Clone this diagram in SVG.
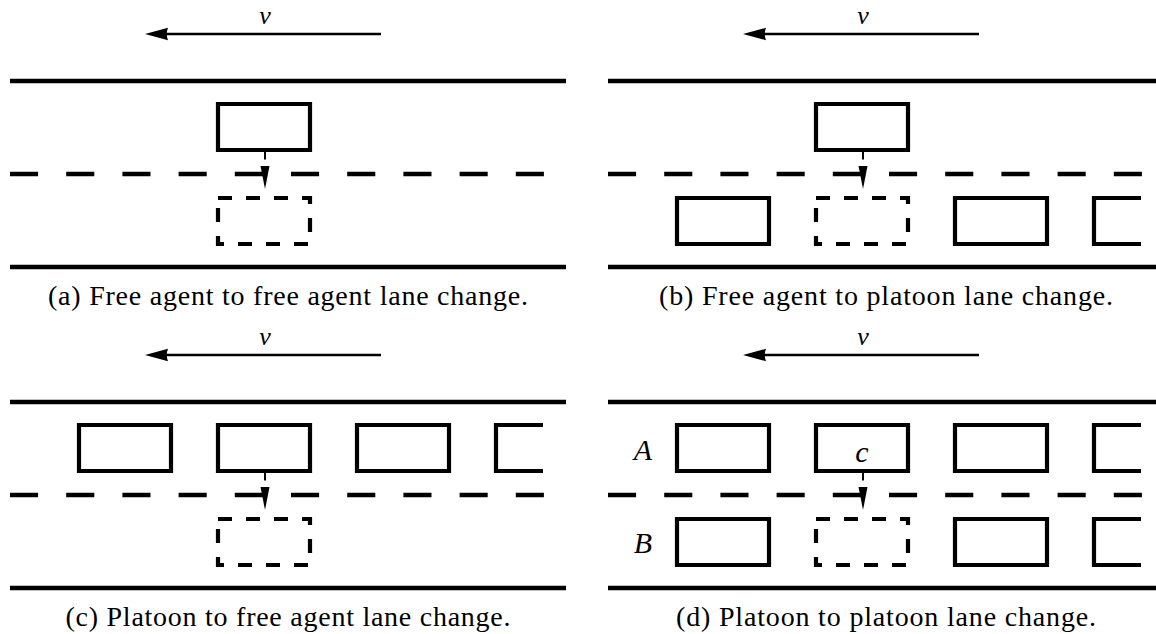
<svg xmlns="http://www.w3.org/2000/svg" width="1156" height="634" viewBox="0 0 1156 634">
<defs>
<style>
.road{stroke:#000;stroke-width:4.5;fill:none}
.lane{stroke:#000;stroke-width:4.5;fill:none;stroke-dasharray:28.1 28.1}
.car{stroke:#000;stroke-width:4.2;fill:none}
.ghost{stroke:#000;stroke-width:4.2;fill:none;stroke-dasharray:14 14}
.vel{stroke:#000;stroke-width:2.5;fill:none}
.stem{stroke:#000;stroke-width:2;fill:none}
.head{fill:#000;stroke:none}
.math{font-family:"Liberation Serif","DejaVu Serif",serif;font-style:italic;font-size:30px;fill:#000}
.vlab{font-size:26px}
.cap{font-family:"Liberation Serif","DejaVu Serif",serif;font-size:28px;fill:#000}
</style>
<path id="carbox" class="car" d="M0,0 H92 V46 H0 Z"/>
<path id="carcut" class="car" d="M47,0 H0 V46 H47"/>
<path id="ghostbox" class="ghost" d="M0,0 H92 V46 H0 Z"/>
<g id="velarrow">
<line class="vel" x1="381" y1="34" x2="165" y2="34"/>
<path class="head" d="M145,34 L168,27.8 Q165.5,34 168,40.2 Z"/>
</g>
<g id="lanechange">
<line class="stem" x1="265" y1="152" x2="265" y2="159.5"/>
<path class="head" d="M260.5,166 L269.5,166 L265,189 Z"/>
</g>
<g id="roadset">
<line class="road" x1="10" y1="81" x2="566" y2="81"/>
<line class="lane" x1="10" y1="174" x2="566" y2="174"/>
<line class="road" x1="10" y1="267" x2="566" y2="267"/>
</g>
</defs>

<!-- Panel (a) -->
<g id="panel-a">
<g id="roads-a"><use href="#roadset"/></g>
<text class="math vlab" x="265" y="24" text-anchor="middle">v</text>
<g id="a-car"><use href="#carbox" x="218" y="104"/></g>
<g id="a-target"><use href="#ghostbox" x="218" y="198"/></g>
<g id="connectors-a"><use href="#velarrow"/><use href="#lanechange"/></g>
<text class="cap" x="288" y="305" text-anchor="middle" textLength="480" lengthAdjust="spacing">(a) Free agent to free agent lane change.</text>
</g>

<!-- Panel (b) -->
<g id="panel-b" transform="translate(598,0)">
<g id="roads-b"><use href="#roadset"/></g>
<text class="math vlab" x="265" y="24" text-anchor="middle">v</text>
<g id="b-car"><use href="#carbox" x="218" y="104"/></g>
<g id="b-p1"><use href="#carbox" x="79" y="198"/></g>
<g id="b-target"><use href="#ghostbox" x="218" y="198"/></g>
<g id="b-p3"><use href="#carbox" x="357" y="198"/></g>
<g id="b-p4"><use href="#carcut" x="496" y="198"/></g>
<g id="connectors-b"><use href="#velarrow"/><use href="#lanechange"/></g>
<text class="cap" x="288" y="305" text-anchor="middle" textLength="454" lengthAdjust="spacing">(b) Free agent to platoon lane change.</text>
</g>

<!-- Panel (c) -->
<g id="panel-c" transform="translate(0,321)">
<g id="roads-c"><use href="#roadset"/></g>
<text class="math vlab" x="265" y="24" text-anchor="middle">v</text>
<g id="c-p1"><use href="#carbox" x="79" y="104"/></g>
<g id="c-p2"><use href="#carbox" x="218" y="104"/></g>
<g id="c-p3"><use href="#carbox" x="357" y="104"/></g>
<g id="c-p4"><use href="#carcut" x="496" y="104"/></g>
<g id="c-target"><use href="#ghostbox" x="218" y="198"/></g>
<g id="connectors-c"><use href="#velarrow"/><use href="#lanechange"/></g>
<text class="cap" x="288" y="305" text-anchor="middle" textLength="445" lengthAdjust="spacing">(c) Platoon to free agent lane change.</text>
</g>

<!-- Panel (d) -->
<g id="panel-d" transform="translate(598,321)">
<g id="roads-d"><use href="#roadset"/></g>
<text class="math vlab" x="265" y="24" text-anchor="middle">v</text>
<text class="math" x="45" y="139" text-anchor="middle">A</text>
<text class="math" x="45" y="232" text-anchor="middle">B</text>
<g id="d-a1"><use href="#carbox" x="79" y="104"/></g>
<g id="d-c"><use href="#carbox" x="218" y="104"/><text class="math" x="264" y="141" text-anchor="middle">c</text></g>
<g id="d-a3"><use href="#carbox" x="357" y="104"/></g>
<g id="d-a4"><use href="#carcut" x="496" y="104"/></g>
<g id="d-b1"><use href="#carbox" x="79" y="198"/></g>
<g id="d-target"><use href="#ghostbox" x="218" y="198"/></g>
<g id="d-b3"><use href="#carbox" x="357" y="198"/></g>
<g id="d-b4"><use href="#carcut" x="496" y="198"/></g>
<g id="connectors-d"><use href="#velarrow"/><use href="#lanechange"/></g>
<text class="cap" x="288" y="305" text-anchor="middle" textLength="420" lengthAdjust="spacing">(d) Platoon to platoon lane change.</text>
</g>
</svg>
